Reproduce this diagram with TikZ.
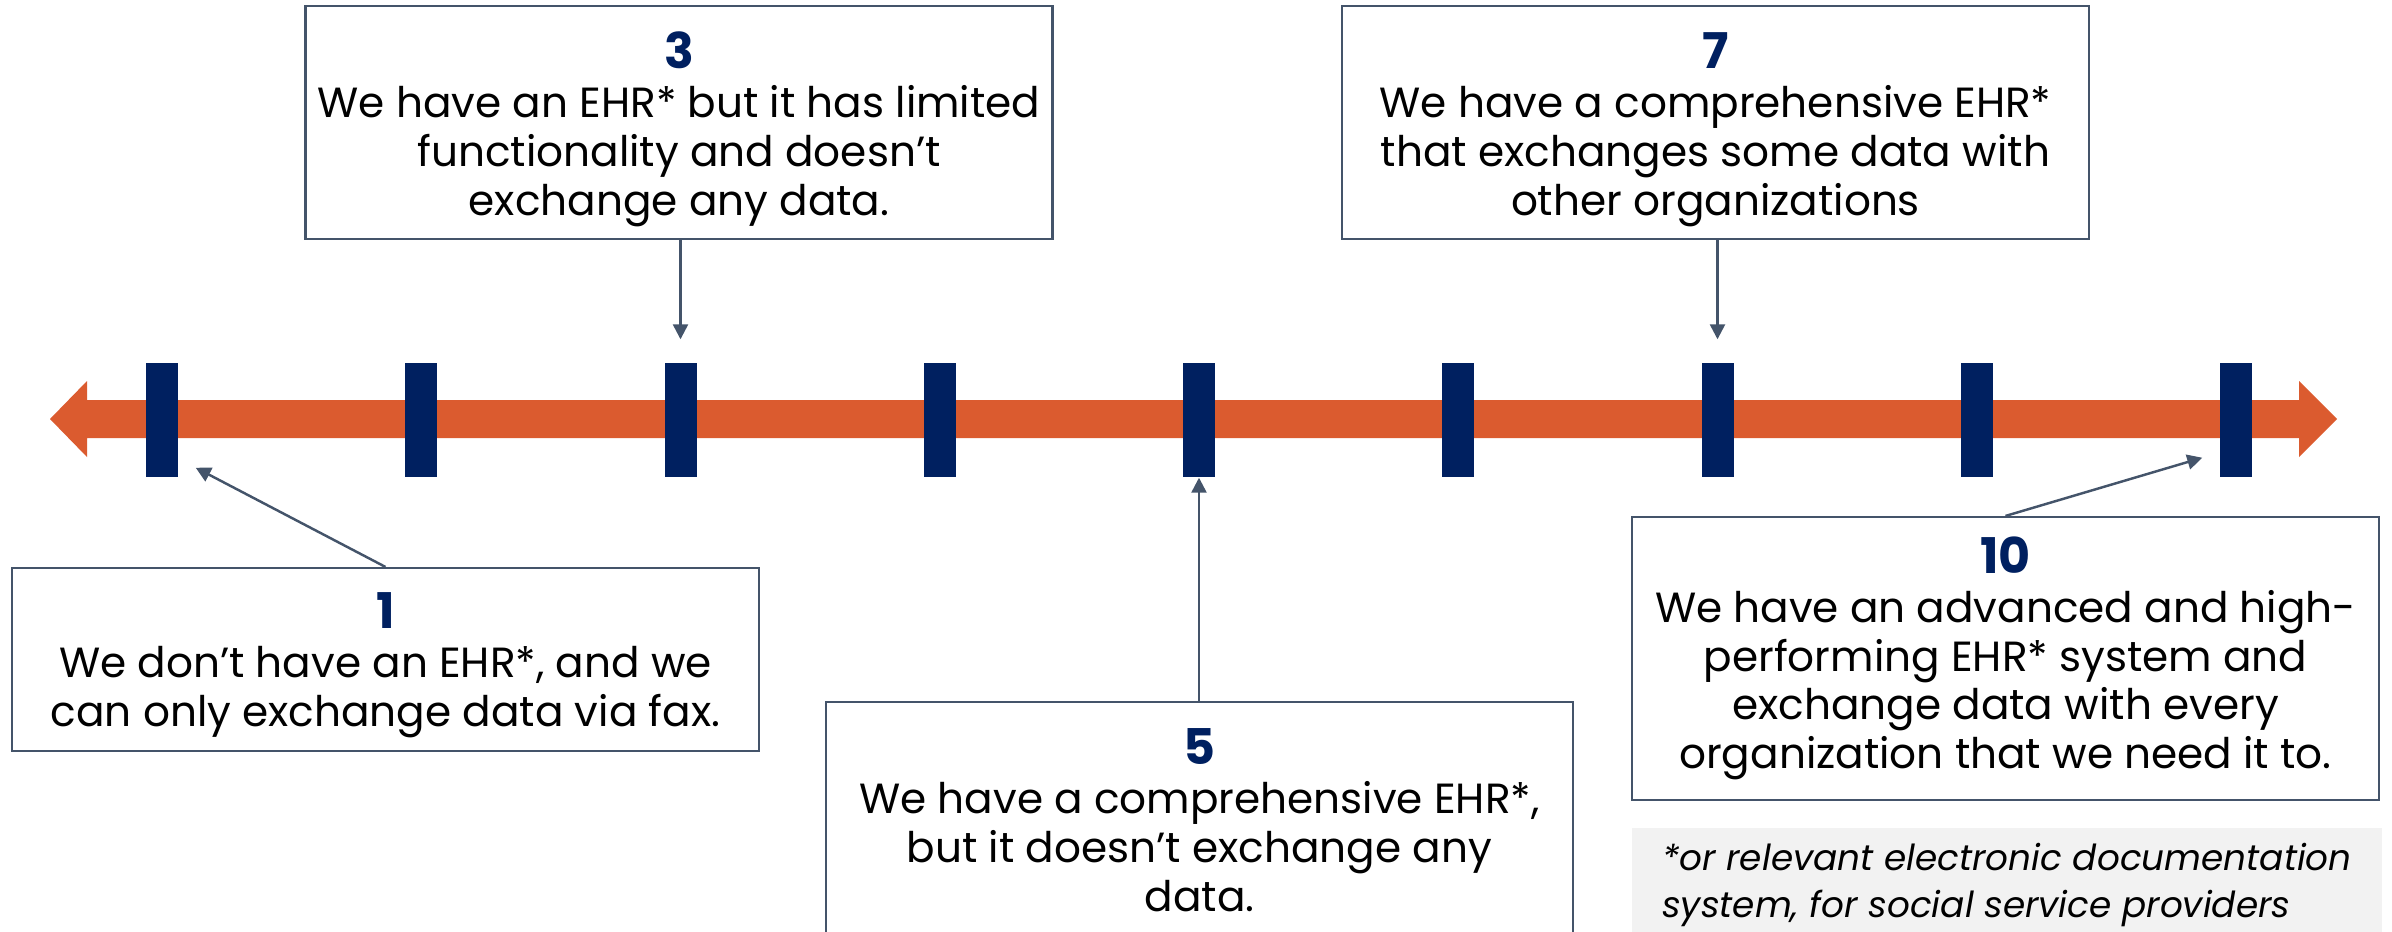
\documentclass[tikz,border=0pt]{standalone}
\usepackage{fontspec}
\setmainfont{Poppins}
\usepackage{xcolor}
\usetikzlibrary{arrows.meta}
\definecolor{ehrorange}{RGB}{219,91,47}
\definecolor{ehrnavy}{RGB}{0,32,96}
\definecolor{ehrslate}{RGB}{68,84,106}
\definecolor{ehrnote}{RGB}{242,242,242}
\newcommand{\lvl}[2][0pt]{{\rule{0pt}{#1}\fontsize{14}{16}\selectfont\bfseries\color{ehrnavy}#2}}

\begin{document}
\begin{tikzpicture}[
    tickbar/.style={fill=ehrnavy, minimum width=0.32cm, minimum height=1.14cm, inner sep=0pt},
    level/.style={draw=ehrslate, line width=0.6pt, minimum width=7.47cm, align=center, font=\fontsize{12}{13.9}\selectfont, inner sep=0pt},
    note/.style={fill=ehrnote, minimum width=7.5cm, minimum height=1.15cm, inner sep=0pt, align=left, font=\fontsize{10.2}{13.4}\selectfont\itshape},
    pointer/.style={draw=ehrslate, line width=0.7pt, -{Triangle[length=0.15cm,width=0.15cm]}}
  ]
    \useasboundingbox (0, 0) rectangle (23.92, 9.31);
    \fill[ehrorange] (0.50, 5.12) -- (0.87, 5.50) -- (0.87, 5.31) -- (22.99, 5.31) -- (22.99, 5.50) -- (23.37, 5.12)
      -- (22.99, 4.74) -- (22.99, 4.93) -- (0.87, 4.93) -- (0.87, 4.74) -- cycle;
    \node[tickbar] (t1) at (1.62, 5.11) {};
    \node[tickbar] (t2) at (4.21, 5.11) {};
    \node[tickbar] (t3) at (6.805, 5.11) {};
    \node[tickbar] (t4) at (9.40, 5.11) {};
    \node[tickbar] (t5) at (11.99, 5.11) {};
    \node[tickbar] (t6) at (14.58, 5.11) {};
    \node[tickbar] (t7) at (17.175, 5.11) {};
    \node[tickbar] (t8) at (19.77, 5.11) {};
    \node[tickbar] (t9) at (22.36, 5.11) {};
    \node[level, minimum height=2.33cm] (b3) at (6.79, 8.085) {\lvl[14.2pt]{3}\\We have an EHR* but it has limited\\functionality and doesn't\\exchange any data.};
    \node[level, minimum height=2.33cm] (b7) at (17.155, 8.085) {\lvl[14.2pt]{7}\\We have a comprehensive EHR*\\that exchanges some data with\\other organizations};
    \node[level, minimum height=1.83cm] (b1) at (3.855, 2.715) {\lvl[13.3pt]{1}\\We don't have an EHR*, and we\\can only exchange data via fax.};
    \node[level, minimum height=2.36cm] (b5) at (11.995, 1.11) {\lvl{5}\\We have a comprehensive EHR*,\\but it doesn't exchange any\\data.};
    \node[level, minimum height=2.83cm] (b10) at (20.055, 2.725) {\lvl{10}\\We have an advanced and high-\\performing EHR* system and\\exchange data with every\\organization that we need it to.};
    \node[note] (fn) at (20.07, 0.46) {*or relevant electronic documentation\\system, for social service providers};
    \coordinate (p1) at ([shift={(0.17, 0.10)}]t1.south east);
    \coordinate (p10) at ([shift={(-0.17, 0.20)}]t9.south west);
    \draw [pointer, shorten >=0.23cm] (b3.south -| t3) to (t3.north);
    \draw [pointer, shorten >=0.23cm] (b7.south -| t7) to (t7.north);
    \draw [pointer] (b5.north -| t5) to (t5.south);
    \draw [pointer] (b1.north) to (p1);
    \draw [pointer] (b10.north) to (p10);
  \end{tikzpicture}
\end{document}
